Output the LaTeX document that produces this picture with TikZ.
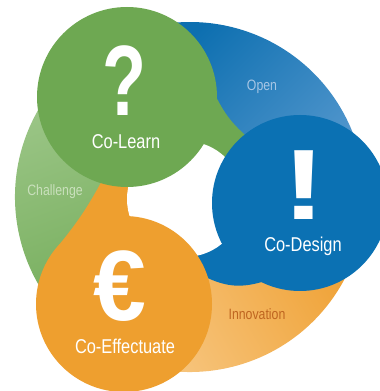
\documentclass[tikz,border=0pt]{standalone}
\usepackage{graphicx}
\usepackage{fontspec}
\setmainfont{Liberation Sans}
\newfontfamily\condfont[FakeStretch=0.82]{Liberation Sans}
\usetikzlibrary{positioning, calc, backgrounds}

\definecolor{colearn}{HTML}{6EA852}
\definecolor{codesign}{HTML}{0B71B3}
\definecolor{coeffect}{HTML}{EE9F2F}
\definecolor{ringgreenlight}{HTML}{A4CB91}
\definecolor{ringgreendark}{HTML}{70AA55}
\definecolor{ringbluedark}{HTML}{0D6FB0}
\definecolor{ringbluelight}{HTML}{5A9BD0}
\definecolor{ringorangelight}{HTML}{F8CB8A}
\definecolor{ringorangedark}{HTML}{EFA032}
\definecolor{opentext}{HTML}{A7C6E5}
\definecolor{challengetext}{HTML}{C9E0BC}
\definecolor{innovationtext}{HTML}{BF6520}

\newcommand{\cosym}[2][0.72]{\scalebox{#1}[1]{#2}}

\tikzstyle{bigdisc} = [circle, inner sep=0pt, outer sep=0pt, minimum size=176]
\tikzstyle{cotitle} = [text=white, inner sep=0pt,
	font=\condfont\fontsize{20}{24}\selectfont]
\tikzstyle{cosign} = [text=white, inner sep=0pt, text depth=0pt,
	font=\bfseries\fontsize{100}{100}\selectfont]

\begin{document}
\begin{tikzpicture}[
x=1pt, y=1pt,
ringword/.style={inner sep=0pt, font=\condfont\fontsize{15}{18}\selectfont}
]
 \useasboundingbox (0,0) rectangle (380,391);
 \coordinate (rc) at (190,194);
 \coordinate (hole) at (185,192);

 \node [bigdisc, fill=colearn, minimum size=180] (learn) at (127,294) {};
 \node [bigdisc, fill=codesign] (design) at (300,188) {};
 \node [bigdisc, fill=coeffect] (effect) at (124,87) {};

 \begin{scope}[on background layer]
 % ring sectors
 \shade[top color=ringgreenlight, bottom color=ringgreendark, shading angle=20]
   (rc) -- ++(103:175) arc[start angle=103, end angle=238, radius=175] -- cycle;
 \shade[top color=ringbluedark, bottom color=ringbluelight, shading angle=45]
   (rc) -- ++(-5:175) arc[start angle=-5, end angle=103, radius=175] -- cycle;
 \shade[top color=ringorangelight, bottom color=ringorangedark, shading angle=120]
   (rc) -- ++(238:175) arc[start angle=238, end angle=355, radius=175] -- cycle;

 % bridges
 \fill[colearn] (learn.center) -- (learn.-1) to[bend right=10] (design.129)
   -- (design.center) -- (hole) -- cycle;
 \fill[codesign] (effect.center) -- (effect.17) to[bend right=20] (design.244)
   -- (design.center) -- (hole) -- cycle;
 \fill[coeffect] (learn.center) -- (learn.253) to[bend left=5] (effect.136)
   -- (effect.center) -- (hole) -- cycle;

 \fill[white] (hole) circle[radius=58];
 \end{scope}

 \node [cosign] (learnsign) at (124,310) {\cosym{?}};
 \node [cotitle] (learnname) at (126,249) {Co-Learn};
 \node [cosign] (designsign) at (304,206) {\cosym[1.3]{!}};
 \node [cosign] (effectsign) at (120,105) {\cosym[0.95]{€}};
 \node [cotitle] (designname) at (303,145) {Co-Design};
 \node [cotitle] (effectname) at (125,45) {Co-Effectuate};

 \node [ringword, text=opentext] (open) at (262,304) {Open};
 \node [ringword, text=challengetext] (challenge) at (55,199) {Challenge};
 \node [ringword, text=innovationtext] (innovation) at (257,77) {Innovation};
\end{tikzpicture}
\end{document}
